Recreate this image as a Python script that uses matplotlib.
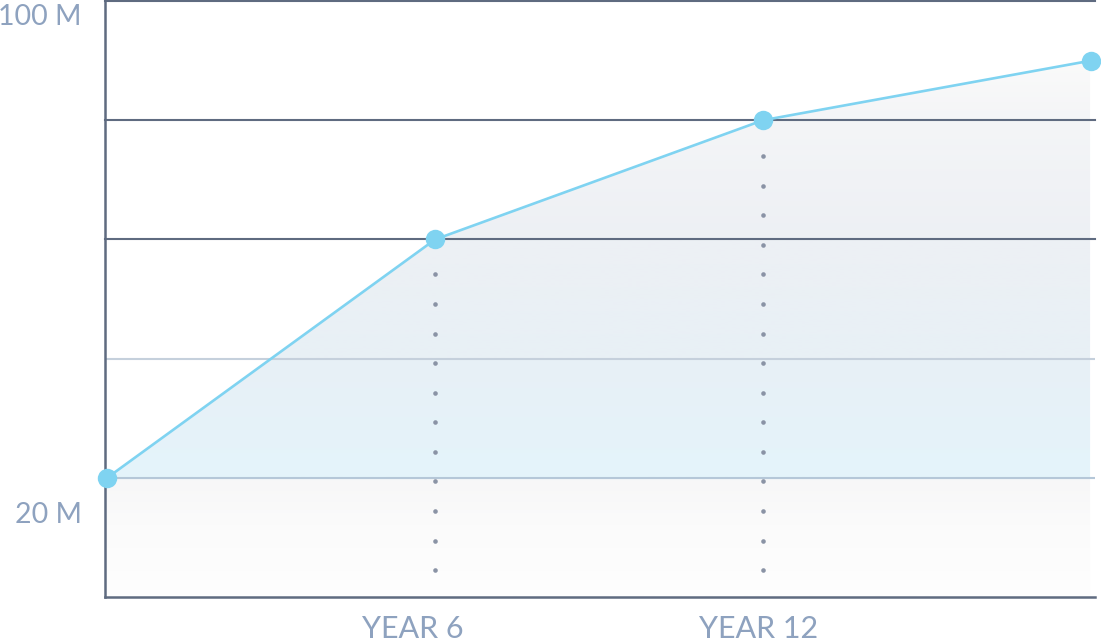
import numpy as np
import matplotlib
matplotlib.use("Agg")
import matplotlib.pyplot as plt
from matplotlib.colors import LinearSegmentedColormap
from matplotlib.patches import Polygon
from matplotlib import font_manager

# ---- data ----
years = [0, 6, 12, 18]
values = [36, 68, 84, 92]          # millions
y_labels = ["100 M", "20 M"]
x_labels = ["YEAR 6", "YEAR 12"]
grid_dark = [100, 84, 68]
grid_light = [52, 36]

W, H = 1101, 644
fig = plt.figure(figsize=(W / 100, H / 100), dpi=100)
L, R, T, B = 105, 1095, 1, 597
ax = fig.add_axes([L / W, (H - B) / H, (R - L) / W, (B - T) / H])
xmin, xmax = -0.04, 18.07
ymin, ymax = 20, 100
ax.set_xlim(xmin, xmax)
ax.set_ylim(ymin, ymax)

fams = {f.name for f in font_manager.fontManager.ttflist}
family = "Lato" if "Lato" in fams else "DejaVu Sans"
text_color = "#8ea2bf"
dark = "#5f6b80"

# gradient fill
stops = [(0.0, "#fefefe"), (0.12, "#fbfbfb"), (0.195, "#f7f7f8"),
         (0.2, "#e4f4fb"), (0.4, "#e8f0f6"), (0.6, "#edf0f4"),
         (0.8, "#f4f5f7"), (0.9, "#fafafa"), (1.0, "#fbfbfb")]
cmap = LinearSegmentedColormap.from_list("g", stops)
grad = np.linspace(0, 1, 800).reshape(-1, 1)
xr = 17.98
im = ax.imshow(grad, cmap=cmap, origin="lower", aspect="auto",
               extent=[xmin, xr, ymin, ymax], zorder=1, interpolation="bilinear")
poly_pts = [(xmin, values[0])] + list(zip(years, values)) + [(xr, values[-1]), (xr, ymin), (xmin, ymin)]
poly = Polygon(poly_pts, closed=True, transform=ax.transData, facecolor="none", edgecolor="none")
ax.add_patch(poly)
im.set_clip_path(poly)

# grid lines
for g in grid_dark:
    ax.axhline(g, color=dark, lw=1.5, zorder=2, clip_on=False)
ax.axhline(grid_light[0], color="#c5d0dc", lw=1.5, zorder=2)
ax.axhline(grid_light[1], color="#b5c7d8", lw=1.5, zorder=2)

# dotted verticals
for xp, v in zip(years[1:3], values[1:3]):
    dots = np.arange(23.6, v - 4.3, 3.97)
    ax.plot([xp] * len(dots), dots, ls="none", marker="o", ms=3.3, color="#8a93a5", mec="none", zorder=3)

# line and markers
ax.plot(years, values, color="#7fd3f1", lw=1.9, zorder=4, clip_on=False)
ax.plot(years, values, ls="none", marker="o", ms=14, color="#7fd3f1", mec="none", zorder=5, clip_on=False)

for s in ["top", "right"]:
    ax.spines[s].set_visible(False)
for s in ["left", "bottom"]:
    ax.spines[s].set_color(dark)
    ax.spines[s].set_linewidth(1.8)
ax.set_xticks([])
ax.set_yticks([])

fig.text(82 / W, 1 - 25 / H, y_labels[0], ha="right", va="baseline", fontsize=20.5,
         color=text_color, family=family)
fig.text(82 / W, 1 - 523 / H, y_labels[1], ha="right", va="baseline", fontsize=20.5,
         color=text_color, family=family)
for lab, xc in zip(x_labels, [413, 759]):
    fig.text(xc / W, 1 - 638 / H, lab, ha="center", va="baseline", fontsize=22,
             color=text_color, family=family)

fig.savefig("out.png", dpi=100)
